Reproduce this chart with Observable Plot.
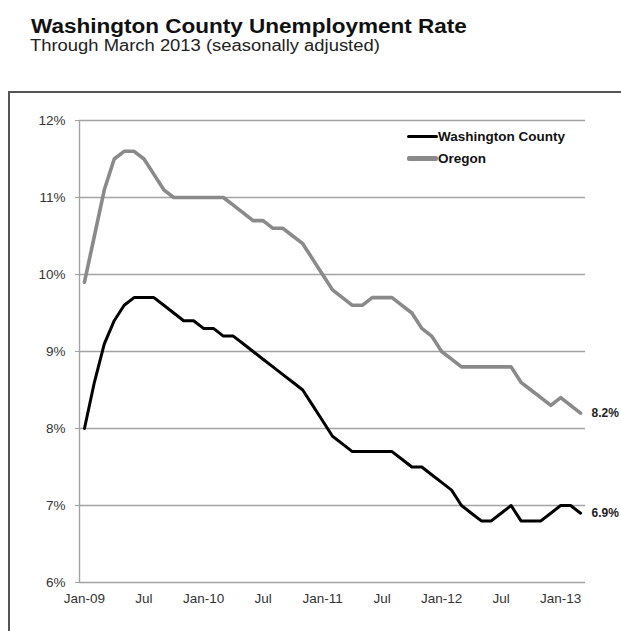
<!DOCTYPE html>
<html>
<head>
<meta charset="utf-8">
<script src="https://cdn.jsdelivr.net/npm/d3@7"></script>
<script src="https://cdn.jsdelivr.net/npm/@observablehq/plot@0.6"></script>
<style>
  html, body { margin: 0; padding: 0; background: #fff; overflow: hidden; }
  #wrap { position: relative; width: 621px; height: 631px; font-family: "Liberation Sans", Arial, sans-serif; }
  .title { position: absolute; left: 31px; top: 16px; font-size: 20px; font-weight: bold; line-height: 1; color: #111; white-space: nowrap; transform-origin: left top; transform: scaleX(1.126); }
  .subtitle { position: absolute; left: 30px; top: 38px; font-size: 16px; line-height: 1; color: #222; white-space: nowrap; transform-origin: left top; transform: scaleX(1.15); }
  .frame { position: absolute; left: 8px; top: 91px; width: 700px; height: 700px; border-top: 2px solid #555; border-left: 2px solid #555; }
  #chart { position: absolute; left: 0; top: 95px; }
  .legend { position: absolute; left: 407px; font-size: 13.5px; font-weight: bold; color: #111; line-height: 1; white-space: nowrap; }
  .legend .sw { display: inline-block; width: 31px; vertical-align: middle; border-radius: 2px; }
  .legend span.t { vertical-align: middle; }
</style>
</head>
<body>
<div id="wrap">
  <div class="title">Washington County Unemployment Rate</div>
  <div class="subtitle">Through March 2013 (seasonally adjusted)</div>
  <div class="frame"></div>
  <div id="chart"></div>
  <div id="legend"></div>
</div>
<script>
// Monthly values, Jan-09 .. Mar-13 (percent)
const seriesNames = ["Washington County", "Oregon"];
const washington = [
  8.0, 8.6, 9.1, 9.4, 9.6, 9.7, 9.7, 9.7, 9.6, 9.5,
  9.4, 9.4, 9.3, 9.3, 9.2, 9.2, 9.1, 9.0, 8.9, 8.8,
  8.7, 8.6, 8.5, 8.3, 8.1, 7.9, 7.8, 7.7, 7.7, 7.7,
  7.7, 7.7, 7.6, 7.5, 7.5, 7.4, 7.3, 7.2, 7.0, 6.9,
  6.8, 6.8, 6.9, 7.0, 6.8, 6.8, 6.8, 6.9, 7.0, 7.0,
  6.9
];
const oregon = [
  9.9, 10.5, 11.1, 11.5, 11.6, 11.6, 11.5, 11.3, 11.1, 11.0,
  11.0, 11.0, 11.0, 11.0, 11.0, 10.9, 10.8, 10.7, 10.7, 10.6,
  10.6, 10.5, 10.4, 10.2, 10.0, 9.8, 9.7, 9.6, 9.6, 9.7,
  9.7, 9.7, 9.6, 9.5, 9.3, 9.2, 9.0, 8.9, 8.8, 8.8,
  8.8, 8.8, 8.8, 8.8, 8.6, 8.5, 8.4, 8.3, 8.4, 8.3,
  8.2
];
const xTickIndex = [0, 6, 12, 18, 24, 30, 36, 42, 48];
const xTickLabels = ["Jan-09", "Jul", "Jan-10", "Jul", "Jan-11", "Jul", "Jan-12", "Jul", "Jan-13"];
const yTicks = [6, 7, 8, 9, 10, 11, 12];
const seriesColors = ["#000000", "#8a8a8a"];
const seriesWidths = [3, 3.6];

const n = washington.length;
const xDomain = [-0.5, n - 0.5];
const endLabels = [
  {i: n - 1, v: oregon[n - 1]},
  {i: n - 1, v: washington[n - 1]}
];

const chart = Plot.plot({
  width: 621,
  height: 530,
  marginTop: 25,
  marginBottom: 43,
  marginLeft: 79,
  marginRight: 36,
  style: {fontFamily: "'Liberation Sans', Arial, sans-serif", background: "transparent", overflow: "visible"},
  x: {domain: xDomain, axis: null},
  y: {domain: [6, 12], axis: null},
  marks: [
    Plot.ruleY(yTicks, {stroke: "#a3a3a3", strokeWidth: 1.4}),
    Plot.ruleX([xDomain[0]], {stroke: "#a3a3a3", strokeWidth: 1.4}),
    Plot.axisY({ticks: yTicks, label: null, tickSize: 4, tickPadding: 10, tickFormat: d => d + "%", fontSize: 13.5, stroke: "#a3a3a3", fill: "#333"}),
    Plot.axisX({ticks: xTickIndex, label: null, tickSize: 0, tickPadding: 11, tickFormat: d => xTickLabels[xTickIndex.indexOf(d)], fontSize: 13.5, fill: "#333"}),
    Plot.lineY(oregon, {stroke: seriesColors[1], strokeWidth: seriesWidths[1], strokeLinejoin: "round"}),
    Plot.lineY(washington, {stroke: seriesColors[0], strokeWidth: seriesWidths[0], strokeLinejoin: "round"}),
    Plot.text(endLabels, {x: "i", y: "v", text: d => d.v.toFixed(1) + "%", dx: 11, textAnchor: "start", fontWeight: "bold", fontSize: 12, fill: "#222"})
  ]
});
document.getElementById("chart").appendChild(chart);

// Legend
const legend = document.getElementById("legend");
const legendTops = [129, 151];
seriesNames.forEach((name, k) => {
  const row = document.createElement("div");
  row.className = "legend";
  row.style.top = legendTops[k] + "px";
  row.innerHTML = `<span class="sw" style="height:${k === 0 ? 3.5 : 4.5}px;background:${seriesColors[k]}"></span><span class="t">${name}</span>`;
  legend.appendChild(row);
});
</script>
</body>
</html>
